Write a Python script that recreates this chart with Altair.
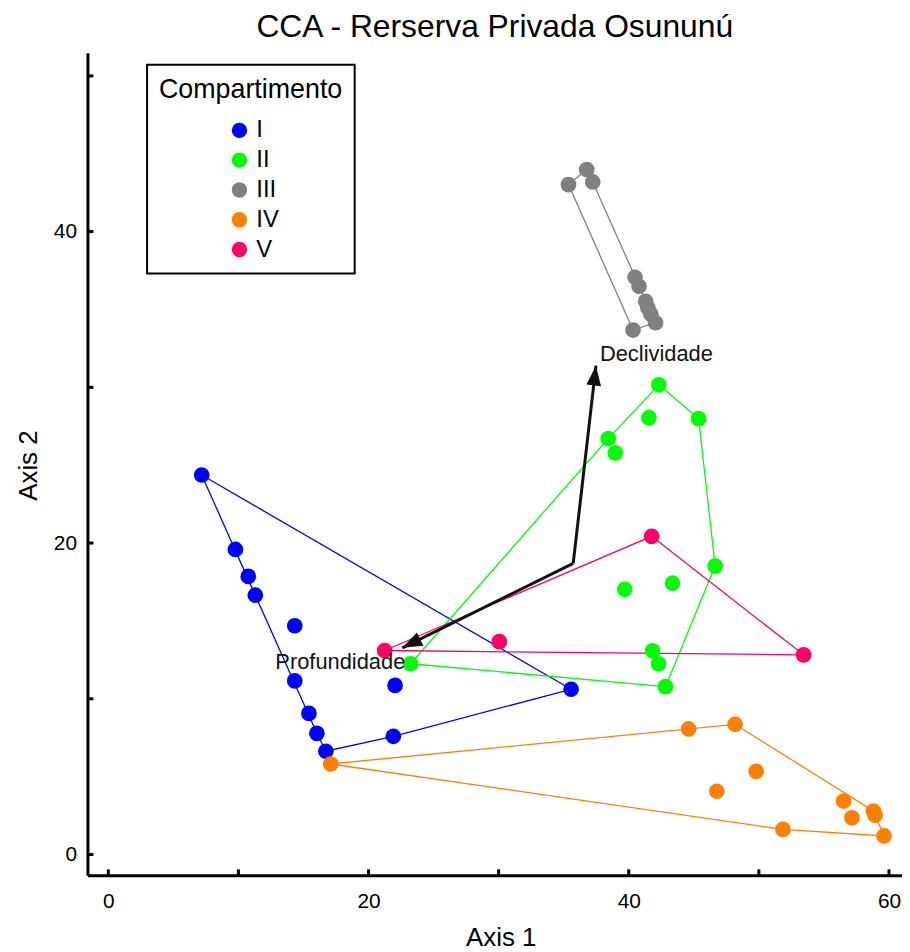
import math
import altair as alt
import pandas as pd

# ---------------- data ----------------
groups = ["I", "II", "III", "IV", "V"]
colors = ["#0000ff", "#00ff00", "#808080", "#ff8000", "#ff0066"]

x_I = [7.18, 9.77, 10.76, 11.30, 14.33, 14.33, 15.42, 16.03, 16.72, 21.91, 22.04, 35.57]
y_I = [24.37, 19.59, 17.86, 16.65, 14.69, 11.15, 9.06, 7.78, 6.63, 7.59, 10.86, 10.61]

x_II = [42.31, 41.55, 45.37, 38.42, 38.96, 46.64, 39.69, 43.36, 41.83, 42.29, 42.82, 23.23]
y_II = [30.16, 28.05, 27.99, 26.71, 25.79, 18.52, 17.03, 17.42, 13.08, 12.25, 10.78, 12.25]

x_III = [35.37, 36.77, 37.23, 40.48, 40.79, 41.30, 41.47, 41.70, 42.06, 40.33]
y_III = [43.02, 43.99, 43.19, 37.07, 36.49, 35.53, 35.11, 34.69, 34.15, 33.68]

x_IV = [17.10, 44.60, 48.17, 49.79, 46.77, 56.51, 57.15, 58.80, 58.93, 51.85, 59.62]
y_IV = [5.81, 8.06, 8.36, 5.34, 4.06, 3.43, 2.36, 2.79, 2.53, 1.61, 1.19]

x_V = [21.24, 30.05, 41.76, 53.44]
y_V = [13.10, 13.67, 20.43, 12.82]

vec_names = ["Declividade", "Profundidade"]
vec_origin = (35.73, 18.69)
vec_x = [37.48, 22.60]
vec_y = [31.39, 13.27]

x_ticks = [0, 10, 20, 30, 40, 50, 60]
y_ticks = [0, 10, 20, 30, 40, 50]

# ---------------- layout ----------------
W, H = 820, 828
XDOM = [-1.6, 61.0]
YDOM = [-1.34, 51.48]
FONT = "Liberation Sans"

xs = {"I": x_I, "II": x_II, "III": x_III, "IV": x_IV, "V": x_V}
ys = {"I": y_I, "II": y_II, "III": y_III, "IV": y_IV, "V": y_V}

rows = []
for g in groups:
    for a, b in zip(xs[g], ys[g]):
        rows.append({"x": a, "y": b, "grp": g})
pts = pd.DataFrame(rows)


def hull(points):
    p = sorted(set(points))
    if len(p) <= 2:
        return p

    def cross(o, a, b):
        return (a[0] - o[0]) * (b[1] - o[1]) - (a[1] - o[1]) * (b[0] - o[0])

    lower, upper = [], []
    for q in p:
        while len(lower) >= 2 and cross(lower[-2], lower[-1], q) <= 0:
            lower.pop()
        lower.append(q)
    for q in reversed(p):
        while len(upper) >= 2 and cross(upper[-2], upper[-1], q) <= 0:
            upper.pop()
        upper.append(q)
    return lower[:-1] + upper[:-1]


hrows = []
for g in groups:
    h = hull(list(zip(xs[g], ys[g])))
    h = h + [h[0]]
    for i, (a, b) in enumerate(h):
        hrows.append({"x": a, "y": b, "hgrp": g, "ord": i})
hull_df = pd.DataFrame(hrows)

sx = W / (XDOM[1] - XDOM[0])
sy = H / (YDOM[1] - YDOM[0])
arows = []
for n, a, b in zip(vec_names, vec_x, vec_y):
    dx = (a - vec_origin[0]) * sx
    dy = (b - vec_origin[1]) * sy
    ang = math.degrees(math.atan2(dx, dy)) % 360
    arows.append({"name": n, "x0": vec_origin[0], "y0": vec_origin[1], "x": a, "y": b, "ang": ang})
arr = pd.DataFrame(arows)

xt = pd.DataFrame({"x": x_ticks})
yt = pd.DataFrame({"y": y_ticks})

xscale = alt.Scale(domain=XDOM, nice=False, zero=False)
yscale = alt.Scale(domain=YDOM, nice=False, zero=False)

xaxis = alt.Axis(
    title="Axis 1", values=x_ticks, ticks=False, tickSize=0, grid=False,
    labelExpr="datum.value % 20 == 0 ? datum.label : ''",
    labelFont=FONT, labelFontSize=21, labelColor="black", labelPadding=15,
    domainColor="black", domainWidth=3,
    titleFont=FONT, titleFontSize=26, titleFontWeight="normal", titleColor="black",
    titleX=416, titleY=71, titleBaseline="alphabetic", titleAlign="center",
)
yaxis = alt.Axis(
    title="Axis 2", values=y_ticks, ticks=False, tickSize=0, grid=False,
    labelExpr="datum.value % 20 == 0 ? datum.label : ''",
    labelFont=FONT, labelFontSize=21, labelColor="black", labelPadding=11,
    domainColor="black", domainWidth=3,
    titleFont=FONT, titleFontSize=26, titleFontWeight="normal", titleColor="black",
    titleX=-51, titleY=415, titleAngle=270, titleBaseline="alphabetic", titleAlign="center",
)

X = alt.X("x:Q", scale=xscale, axis=xaxis)
Y = alt.Y("y:Q", scale=yscale, axis=yaxis)

hull_layer = alt.Chart(hull_df).mark_line(strokeWidth=1.3).encode(
    x=X, y=Y,
    stroke=alt.Stroke("hgrp:N", scale=alt.Scale(domain=groups, range=colors), legend=None),
    detail="hgrp:N",
    order="ord:Q",
)

point_layer = alt.Chart(pts).mark_circle(size=250, opacity=1).encode(
    x=X, y=Y,
    color=alt.Color(
        "grp:N", scale=alt.Scale(domain=groups, range=colors),
        legend=alt.Legend(
            title="Compartimento", orient="none", legendX=60, legendY=12,
            titleFont=FONT, titleFontSize=27, titleFontWeight="normal", titleColor="black",
            titleLimit=400, titlePadding=15, labelFont=FONT, labelFontSize=24,
            labelColor="black", labelLimit=200,
            symbolType="circle", symbolSize=240, rowPadding=6, padding=12,
            strokeColor="black", fillColor="white", symbolOffset=69, labelOffset=5,
        ),
    ),
)

shaft = alt.Chart(arr).mark_rule(strokeWidth=3, color="#111111").encode(
    x=alt.X("x0:Q", scale=xscale, axis=xaxis), y=alt.Y("y0:Q", scale=yscale, axis=yaxis),
    x2="x:Q", y2="y:Q",
)

head = alt.Chart(arr).mark_point(
    shape="M0,0L0.37,1L-0.37,1Z", filled=True, size=1600, color="#111111", opacity=1
).encode(x=X, y=Y, angle=alt.Angle("ang:Q", scale=None))

lab_d = alt.Chart(arr[arr["name"] == "Declividade"]).mark_text(
    align="left", baseline="alphabetic", dx=4, dy=-5, font=FONT, fontSize=22, color="#111111"
).encode(x=X, y=Y, text="name:N")

lab_p = alt.Chart(arr[arr["name"] == "Profundidade"]).mark_text(
    align="right", baseline="alphabetic", dx=3, dy=21, font=FONT, fontSize=22, color="#111111"
).encode(x=X, y=Y, text="name:N")

xtick_layer = alt.Chart(xt).mark_rule(strokeWidth=3, color="black").encode(
    x=X, y=alt.value(H), y2=alt.value(H - 6)
)
ytick_layer = alt.Chart(yt).mark_rule(strokeWidth=3, color="black").encode(
    y=Y, x=alt.value(0), x2=alt.value(6)
)

chart = alt.layer(
    hull_layer, point_layer, shaft, head, lab_d, lab_p, xtick_layer, ytick_layer
).resolve_legend(color="independent", stroke="independent").properties(
    width=W, height=H,
    autosize=alt.AutoSizeParams(type="none"),
    padding={"left": 80, "top": 42, "right": 0, "bottom": 74},
    title=alt.Title(
        "CCA - Rerserva Privada Osununú", font=FONT, fontSize=32, fontWeight="normal",
        color="black", anchor="middle", frame="group", offset=9,
    ),
).configure_view(stroke=None).configure_legend(strokeWidth=2)

chart.save("out.html", embed_options={"renderer": "svg", "actions": False})
